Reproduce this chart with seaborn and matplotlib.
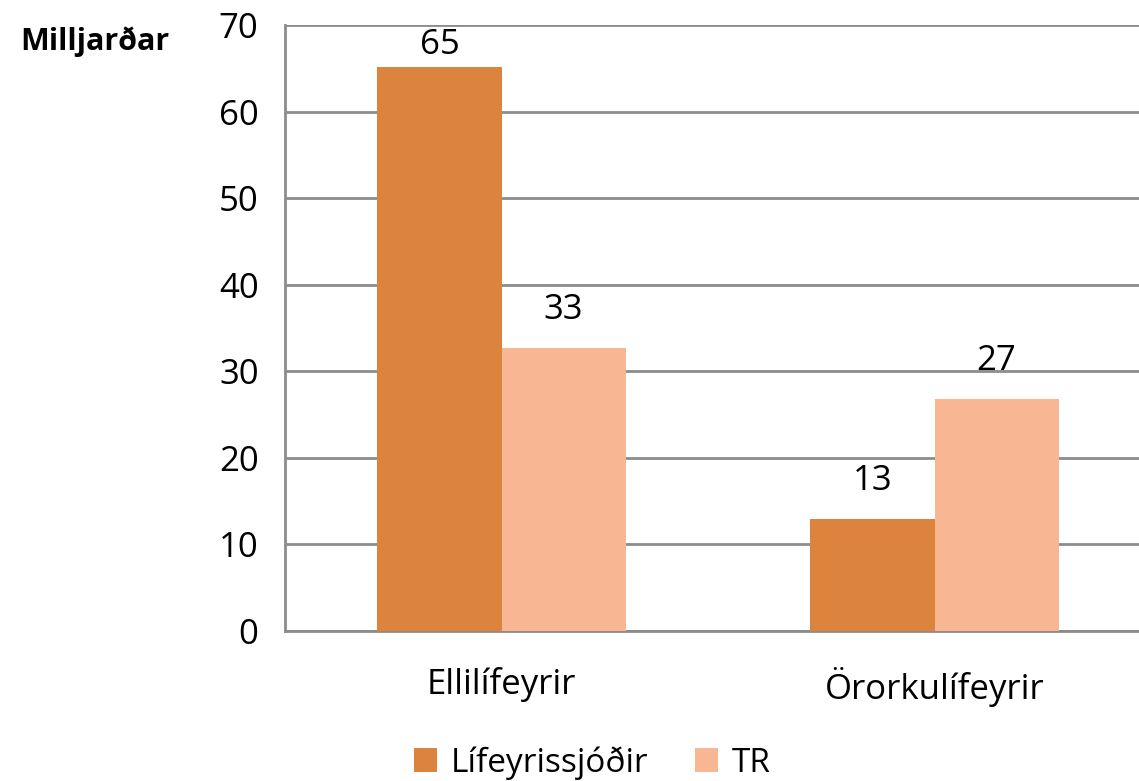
import pandas as pd
import numpy as np
import matplotlib.pyplot as plt
import seaborn as sns

categories = ['Ellilífeyrir', 'Örorkulífeyrir']
lifeyrissjodir = [65.1, 12.9]
tr = [32.7, 26.8]
series_names = ['Lífeyrissjóðir', 'TR']
yticks = [0, 10, 20, 30, 40, 50, 60, 70]

df = pd.DataFrame({
    'Flokkur': categories * 2,
    'Sjóður': [series_names[0]] * 2 + [series_names[1]] * 2,
    'Milljarðar': lifeyrissjodir + tr,
})

sns.set_style('white')
plt.rcParams['font.family'] = ['Open Sans', 'DejaVu Sans']
plt.rcParams['text.color'] = 'black'
plt.rcParams['xtick.labelcolor'] = 'black'
plt.rcParams['ytick.labelcolor'] = 'black'

fig = plt.figure(figsize=(11.39, 7.81), dpi=100)
ax = fig.add_axes([285 / 1139, 1 - 631 / 781, 866 / 1139, 606 / 781])

palette = ['#DC843E', '#F8B692']
sns.barplot(data=df, x='Flokkur', y='Milljarðar', hue='Sjóður', palette=palette,
            width=0.573, ax=ax, saturation=1, legend=True, zorder=3, linewidth=0)

fs = 25
for c in ax.containers:
    texts = ax.bar_label(c, labels=[f'{v:.0f}' for v in c.datavalues], padding=15, fontsize=fs)
    # label near the top of the plot sits closer to its bar
    for t, v in zip(texts, c.datavalues):
        if v > 60:
            t.xyann = (0, 4)

ax.set_xlim(-0.5, 1.5)
ax.set_ylim(0, 70)
ax.set_yticks(yticks)
ax.yaxis.grid(True, color='#8c8c8c', linewidth=2, zorder=0)
ax.set_axisbelow(True)

ax.set_xticks([0, 1])
ax.set_xticklabels(categories)
ax.set_xticks([-0.5, 0.5, 1.5], minor=True)
ax.tick_params(axis='x', which='major', length=0, pad=26, labelsize=fs)
ax.tick_params(axis='x', which='minor', length=9, width=2, color='#8c8c8c', direction='out')
ax.tick_params(axis='y', length=9, width=2, color='#8c8c8c', direction='out', pad=10, labelsize=fs)

for s in ['top', 'right']:
    ax.spines[s].set_visible(False)
for s in ['left', 'bottom']:
    ax.spines[s].set_color('#8c8c8c')
    ax.spines[s].set_linewidth(2)

ax.set_xlabel('')
ax.set_ylabel('')
fig.text(20 / 1139, 1 - 42 / 781, 'Milljarðar', fontsize=22, fontweight='bold', va='center', ha='left')

handles, labels = ax.get_legend_handles_labels()
ax.legend(handles, labels, loc='center', bbox_to_anchor=(592 / 1139, 1 - 763 / 781),
          bbox_transform=fig.transFigure, ncol=2, frameon=False, fontsize=24,
          handlelength=0.7, handleheight=0.7, handletextpad=0.4, columnspacing=1.4)

fig.savefig('out.png', dpi=100)
